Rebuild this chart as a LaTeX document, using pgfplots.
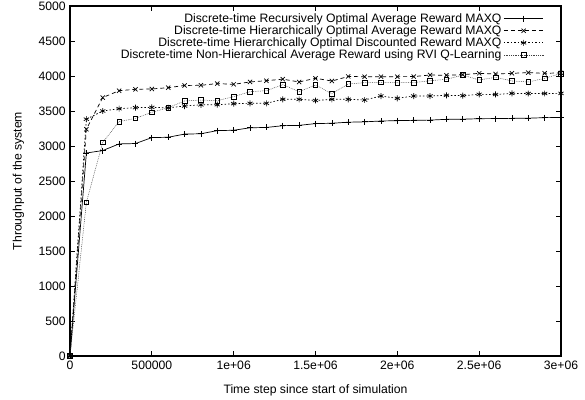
\documentclass[border=0pt]{standalone}
\usepackage{fontspec}
\setmainfont{Liberation Sans}
\usepackage{pgfplots}
\pgfplotsset{compat=1.18}
\newcommand{\gfont}{\fontsize{12.2bp}{14bp}\selectfont}

\begin{document}
\gfont
\begin{tikzpicture}
\begin{axis}[
    scale only axis,
    width=491bp, height=350bp,
    xmin=0, xmax=3000000,
    ymin=0, ymax=5000,
    xtick={0,500000,1000000,1500000,2000000,2500000,3000000},
    xticklabels={0,500000,1e+06,1.5e+06,2e+06,2.5e+06,3e+06},
    scaled x ticks=false,
    ytick={0,500,...,5000},
    /pgf/number format/assume math mode=true,
    /pgf/number format/set thousands separator={},
    tick align=inside,
    major tick length=5bp,
    tick style={black, line width=0.8pt},
    axis line style={black, line width=1.2pt},
    xlabel={Time step since start of simulation},
    ylabel={Throughput of the system},
    ticklabel style={font=\gfont},
    xticklabel style={yshift=-1bp},
    label style={font=\gfont},
    xlabel style={yshift=-6bp},
    ylabel style={yshift=6bp},
    legend style={at={(1,1)}, anchor=north east, draw=none, fill=none,
        font=\gfont, row sep=-2.5bp,
        xshift=-14bp, yshift=-3bp},
    legend cell align=right,
    legend plot pos=right,
    legend image code/.code={
        \draw[mark=none] (0cm,0cm) -- (1.4cm,0cm);
        \draw plot[only marks] coordinates {(0.7cm,0cm)};},
    every axis plot/.append style={line width=0.7pt},
]
\addplot[black, mark=+, mark size=3pt, mark options={solid}] coordinates {
(0,0)(100000,2900)(200000,2935)(300000,3030)(400000,3035)(500000,3120)(600000,3125)(700000,3170)(800000,3175)(900000,3220)(1000000,3225)(1100000,3260)(1200000,3265)(1300000,3290)(1400000,3295)(1500000,3320)(1600000,3325)(1700000,3340)(1800000,3345)(1900000,3357)(2000000,3362)(2100000,3367)(2200000,3370)(2300000,3381)(2400000,3383)(2500000,3390)(2600000,3392)(2700000,3395)(2800000,3397)(2900000,3405)(3000000,3407)};
\addplot[black, dash pattern=on 4bp off 3bp, mark=x, mark size=3pt, mark options={solid}] coordinates {
(0,0)(100000,3240)(200000,3692)(300000,3790)(400000,3810)(500000,3815)(600000,3833)(700000,3865)(800000,3867)(900000,3892)(1000000,3881)(1100000,3915)(1200000,3933)(1300000,3955)(1400000,3915)(1500000,3967)(1600000,3928)(1700000,3993)(1800000,3990)(1900000,3990)(2000000,3990)(2100000,3992)(2200000,4014)(2300000,4010)(2400000,4019)(2500000,4038)(2600000,4029)(2700000,4038)(2800000,4048)(2900000,4038)(3000000,4045)};
\addplot[black, dash pattern=on 1.5bp off 2bp, mark=asterisk, mark size=3pt, mark options={solid}] coordinates {
(0,0)(100000,3383)(200000,3500)(300000,3533)(400000,3548)(500000,3552)(600000,3545)(700000,3571)(800000,3588)(900000,3590)(1000000,3605)(1100000,3610)(1200000,3610)(1300000,3667)(1400000,3667)(1500000,3650)(1600000,3667)(1700000,3667)(1800000,3657)(1900000,3714)(2000000,3681)(2100000,3714)(2200000,3714)(2300000,3724)(2400000,3719)(2500000,3738)(2600000,3736)(2700000,3752)(2800000,3750)(2900000,3750)(3000000,3752)};
\addplot[black!75, line width=0.5pt, dash pattern=on 0.8bp off 1bp, mark=square, mark size=2.3pt, mark options={solid, black, line width=0.6pt}] coordinates {
(0,0)(100000,2195)(200000,3052)(300000,3348)(400000,3395)(500000,3481)(600000,3548)(700000,3643)(800000,3657)(900000,3648)(1000000,3705)(1100000,3776)(1200000,3790)(1300000,3876)(1400000,3776)(1500000,3871)(1600000,3748)(1700000,3886)(1800000,3905)(1900000,3910)(2000000,3905)(2100000,3905)(2200000,3933)(2300000,3952)(2400000,4014)(2500000,3943)(2600000,3981)(2700000,3929)(2800000,3914)(2900000,3967)(3000000,4035)};
\legend{Discrete-time Recursively Optimal Average Reward MAXQ,
Discrete-time Hierarchically Optimal Average Reward MAXQ,
Discrete-time Hierarchically Optimal Discounted Reward MAXQ,
Discrete-time Non-Hierarchical Average Reward using RVI Q-Learning}
\end{axis}
\pgfresetboundingbox
\path[use as bounding box] (-70bp,-44bp) rectangle (515bp,356bp);
\end{tikzpicture}
\end{document}
